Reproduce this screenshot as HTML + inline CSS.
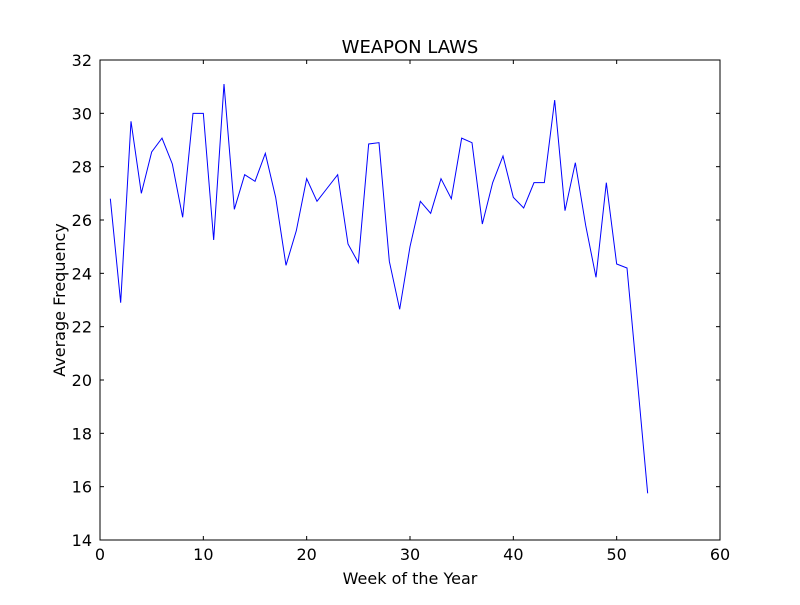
<!DOCTYPE html>
<html><head><meta charset="utf-8"><style>
html,body{margin:0;padding:0;background:#fff;}
svg text{font-family:"DejaVu Sans","Liberation Sans",sans-serif;}
</style></head><body>
<svg id="chart" width="800" height="600" xmlns="http://www.w3.org/2000/svg">
<rect width="800" height="600" fill="#fff"/>
</svg>
<script>
const weeks = [1,2,3,4,5,6,7,8,9,10,11,12,13,14,15,16,17,18,19,20,21,22,23,24,25,26,27,28,29,30,31,32,33,34,35,36,37,38,39,40,41,42,43,44,45,46,47,48,49,50,51,52,53];
const freq = [26.8,22.9,29.7,27.0,28.55,29.07,28.1,26.1,30.0,30.0,25.25,31.1,26.4,27.7,27.45,28.5,26.85,24.3,25.6,27.55,26.7,27.2,27.7,25.1,24.4,28.85,28.9,24.45,22.65,25.0,26.7,26.25,27.55,26.8,29.07,28.9,25.85,27.4,28.4,26.85,26.45,27.4,27.4,30.5,26.35,28.15,25.8,23.85,27.4,24.35,24.2,20.0,15.75];
const xTicks = [0,10,20,30,40,50,60];
const yTicks = [14,16,18,20,22,24,26,28,30,32];

const NS = "http://www.w3.org/2000/svg";
const svg = document.getElementById('chart');
const L=100,R=720,T=60,B=540;
const xMin=0,xMax=60,yMin=14,yMax=32;
const xs = v => L + (v-xMin)/(xMax-xMin)*(R-L);
const ys = v => B - (v-yMin)/(yMax-yMin)*(B-T);
function mk(tag, attrs){const e=document.createElementNS(NS,tag);for(const k in attrs)e.setAttribute(k,attrs[k]);svg.appendChild(e);return e;}

const pts = weeks.map((w,i)=>xs(w).toFixed(2)+','+ys(freq[i]).toFixed(2)).join(' ');
const line = mk('polyline',{points:pts,fill:'none',stroke:'#0000ff','stroke-width':1});



const frame = mk('rect',{x:L,y:T,width:R-L,height:B-T,fill:'none',stroke:'#000','stroke-width':1});



xTicks.forEach(t=>{
  const x=xs(t);
  mk('line',{x1:x,y1:B,x2:x,y2:B-4,stroke:'#000'});
  mk('line',{x1:x,y1:T,x2:x,y2:T+4,stroke:'#000'});
  const tx=mk('text',{x:x,y:B+20,'text-anchor':'middle','font-size':16});
  tx.textContent=t;
  
  
});
yTicks.forEach(t=>{
  const y=ys(t);
  mk('line',{x1:L,y1:y,x2:L+4,y2:y,stroke:'#000'});
  mk('line',{x1:R,y1:y,x2:R-4,y2:y,stroke:'#000'});
  const tx=mk('text',{x:L-8,y:y+6,'text-anchor':'end','font-size':16});
  tx.textContent=t;
  
  
});

const title=mk('text',{x:(L+R)/2,y:53,'text-anchor':'middle','font-size':18});
title.textContent='WEAPON LAWS';



const xl=mk('text',{x:(L+R)/2,y:584,'text-anchor':'middle','font-size':16});
xl.textContent='Week of the Year';



const yl=mk('text',{x:65,y:300,'text-anchor':'middle','font-size':16,transform:'rotate(-90 65 300)'});
yl.textContent='Average Frequency';


</script>
</body></html>
